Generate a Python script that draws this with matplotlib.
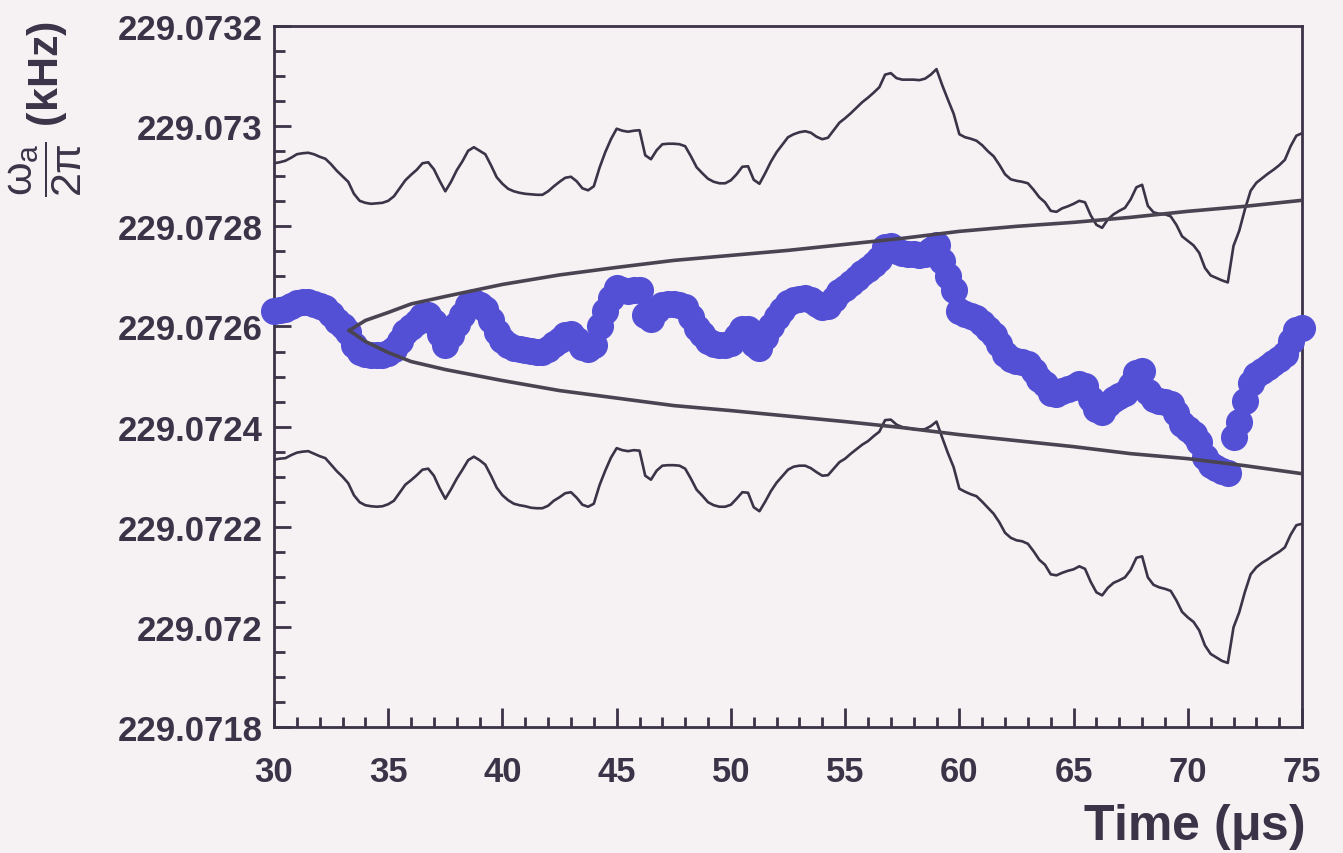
import numpy as np
import matplotlib
matplotlib.use('Agg')
from matplotlib import pyplot as plt
from matplotlib.ticker import FixedLocator, MultipleLocator

# fit start time (us), one fit every 0.25 us
t_start = np.arange(30.0, 75.001, 0.25)

# fitted frequency, as mHz above 229.072 kHz (one row per us)
omega_mhz = [
    630, 632, 634, 640,
    646, 648, 649, 645,
    640, 636, 624, 611,
    600, 588, 564, 550,
    545, 543, 543, 544,
    548, 556, 572, 588,
    598, 608, 620, 622,
    608, 584, 563, 582,
    604, 622, 642, 649,
    642, 634, 612, 588,
    574, 564, 558, 555,
    553, 551, 550, 550,
    556, 566, 574, 582,
    584, 574, 560, 556,
    563, 600, 630, 656,
    676, 672, 670, 672,
    672, 622, 614, 632,
    643, 644, 644, 643,
    638, 618, 596, 584,
    572, 566, 563, 563,
    568, 580, 594, 594,
    566, 558, 578, 600,
    618, 632, 646, 652,
    655, 656, 652, 644,
    638, 640, 654, 668,
    676, 686, 696, 706,
    714, 724, 734, 758,
    760, 750, 746, 745,
    744, 743, 745, 752,
    762, 730, 700, 672,
    630, 624, 620, 616,
    606, 594, 583, 566,
    546, 536, 532, 530,
    526, 512, 496, 486,
    468, 466, 472, 476,
    480, 486, 482, 456,
    436, 430, 446, 456,
    462, 468, 484, 508,
    512, 470, 456, 452,
    450, 446, 428, 405,
    395, 386, 370, 340,
    324, 318, 312, 308,
    380, 410, 452, 488,
    503, 512, 520, 528,
    536, 546, 572, 592,
    596,
]

# statistical error of each fit (mHz)
sigma_mhz = [
    296, 296, 297, 297,
    298, 298, 298, 299,
    299, 299, 300, 300,
    300, 301, 301, 301,
    302, 302, 303, 303,
    303, 304, 304, 304,
    305, 305, 306, 306,
    306, 307, 307, 307,
    308, 308, 309, 309,
    309, 310, 310, 310,
    311, 311, 312, 312,
    312, 313, 313, 313,
    314, 314, 315, 315,
    315, 316, 316, 316,
    317, 317, 318, 318,
    319, 319, 319, 319,
    320, 320, 320, 320,
    321, 321, 321, 321,
    322, 322, 322, 322,
    323, 323, 323, 323,
    324, 324, 325, 326,
    327, 327, 328, 329,
    330, 331, 332, 332,
    333, 334, 335, 335,
    336, 337, 338, 339,
    340, 340, 341, 342,
    343, 343, 344, 345,
    346, 346, 347, 348,
    349, 349, 350, 351,
    352, 352, 353, 353,
    354, 354, 355, 355,
    356, 356, 357, 357,
    358, 358, 359, 359,
    360, 361, 362, 362,
    363, 363, 364, 364,
    365, 365, 366, 366,
    367, 367, 368, 368,
    369, 369, 370, 370,
    371, 371, 372, 373,
    374, 374, 375, 375,
    376, 376, 377, 377,
    378, 379, 380, 380,
    381, 381, 382, 383,
    384, 384, 385, 385,
    386, 387, 388, 389,
    390,
]

# allowed statistical band relative to the earliest start time
t_band = [33.3, 34.0, 35.0, 36.0, 37.5, 40.0, 42.5, 45.0, 47.5, 50.0,
          52.5, 55.0, 57.5, 60.0, 62.5, 65.0, 67.5, 70.0, 72.5, 75.0]
band_hi_mhz = [592, 612, 628, 645, 660, 684, 703, 718, 732, 742,
               752, 764, 776, 790, 800, 808, 818, 830, 840, 852]
band_lo_mhz = [592, 570, 548, 530, 514, 492, 472, 457, 442, 432,
               421, 410, 398, 384, 372, 360, 346, 336, 322, 306]

y_labels = ['229.0718', '229.072', '229.0722', '229.0724', '229.0726',
            '229.0728', '229.073', '229.0732']
x_labels = ['30', '35', '40', '45', '50', '55', '60', '65', '70', '75']

BASE = 229.072
INK = '#3b3347'
BG = '#f6f1f3'

plt.rcParams['font.family'] = ['Liberation Sans', 'DejaVu Sans']
plt.rcParams['mathtext.fontset'] = 'custom'
plt.rcParams['mathtext.rm'] = 'Liberation Sans'
plt.rcParams['mathtext.it'] = 'Liberation Sans:italic'
plt.rcParams['mathtext.bf'] = 'Liberation Sans:bold'

omega = BASE + np.array(omega_mhz) * 1e-6
sigma = np.array(sigma_mhz) * 1e-6
band_hi = BASE + np.array(band_hi_mhz) * 1e-6
band_lo = BASE + np.array(band_lo_mhz) * 1e-6

fig = plt.figure(figsize=(13.43, 8.54), dpi=100)
fig.patch.set_facecolor(BG)
ax = fig.add_axes([0.204, 0.1475, 0.7655, 0.8208])
ax.set_facecolor(BG)

# +/- 1 sigma lines
ax.plot(t_start, omega + sigma, color=INK, lw=1.9, zorder=2)
ax.plot(t_start, omega - sigma, color=INK, lw=1.9, zorder=2)

ax.plot(t_start, omega, 'o', color='#5450d6', ms=19.5, mec='none',
        zorder=3, clip_on=False)

ax.plot(t_band, band_hi, color='#4a4452', lw=2.6, zorder=4)
ax.plot(t_band, band_lo, color='#4a4452', lw=2.6, zorder=4)

ax.set_xlim(30, 75)
ax.set_ylim(229.0718, 229.0732)

ax.xaxis.set_major_locator(FixedLocator([float(s) for s in x_labels]))
ax.set_xticklabels(x_labels)
ax.xaxis.set_minor_locator(MultipleLocator(1))
ax.yaxis.set_major_locator(FixedLocator([float(s) for s in y_labels]))
ax.set_yticklabels(y_labels)
ax.yaxis.set_minor_locator(MultipleLocator(0.00005))

ax.tick_params(axis='both', which='both', direction='in', color=INK,
               width=2, labelcolor=INK, labelsize=25)
ax.tick_params(axis='x', which='major', length=14, pad=20)
ax.tick_params(axis='x', which='minor', length=7)
ax.tick_params(axis='y', which='major', length=12, pad=8)
ax.tick_params(axis='y', which='minor', length=8)
for lab in ax.get_xticklabels() + ax.get_yticklabels():
    lab.set_fontweight('bold')

for sp in ax.spines.values():
    sp.set_color(INK)
    sp.set_linewidth(2)

fig.text(0.9715, 0.032, r'Time ($\mathbf{\mu}$s)', ha='right', va='center',
         fontsize=36, fontweight='bold', color=INK)
fig.text(0.034, 0.975,
         r'$\dfrac{\mathrm{\omega}_{\mathrm{a}}}{\mathrm{2\pi}}$ (kHz)',
         rotation=90, ha='center', va='top', fontsize=31,
         fontweight='bold', color=INK)

fig.savefig('out.png', dpi=100, facecolor=BG)
